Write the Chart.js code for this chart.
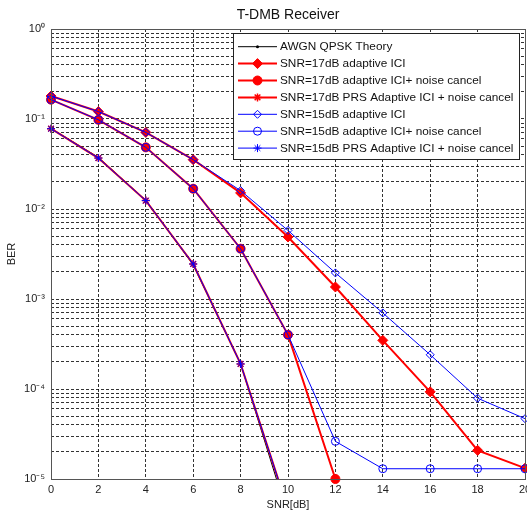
<!DOCTYPE html>
<html>
<head>
<meta charset="utf-8">
<script src="https://cdn.jsdelivr.net/npm/chart.js@4.4.0/dist/chart.umd.min.js"></script>
<style>
html, body { margin: 0; padding: 0; background: #fff; }
</style>
</head>
<body>
<canvas id="berChart" width="527" height="513"></canvas>
<script>
// SNR in dB (x axis)
const snr = [0, 2, 4, 6, 8, 10, 12, 14, 16, 18, 20];

// BER values
const theory = [0.0786, 0.0375, 0.0125, 0.00239, 0.000191, 0.00000387];
const ici17  = [0.18, 0.121, 0.071, 0.0353, 0.0151, 0.00489, 0.00136, 0.000347, 0.000093, 0.0000208, 0.0000132];
const nc17   = [0.164, 0.098, 0.0484, 0.0168, 0.00362, 0.0004, 0.00001];
const prs17  = [0.078, 0.0368, 0.0124, 0.00245, 0.00019, 0.0000046];
const ici15  = [0.18, 0.121, 0.071, 0.0353, 0.016, 0.00578, 0.00195, 0.0007, 0.00024, 0.000079, 0.0000468];
const nc15   = [0.164, 0.098, 0.0484, 0.0168, 0.00362, 0.0004, 0.0000262, 0.000013, 0.000013, 0.000013, 0.000013];
const prs15  = [0.078, 0.0368, 0.0124, 0.00245, 0.00019, 0.0000046];

const seriesNames = [
  "AWGN QPSK Theory",
  "SNR=17dB adaptive ICI",
  "SNR=17dB adaptive ICI+ noise cancel",
  "SNR=17dB PRS Adaptive ICI + noise cancel",
  "SNR=15dB adaptive ICI",
  "SNR=15dB adaptive ICI+ noise cancel",
  "SNR=15dB PRS Adaptive ICI + noise cancel"
];

const xTicks = [0, 2, 4, 6, 8, 10, 12, 14, 16, 18, 20];
const yDecades = [-5, -4, -3, -2, -1, 0];

const FONT = '"Liberation Sans", Arial, sans-serif';
const RED = "#ff0000";
const BLUE = "#0000ff";

function pts(vals) {
  return vals.map((v, i) => ({ x: snr[i], y: v }));
}

// grid lines at 1..9 x 10^n, like the matlab log grid
const yGrid = [];
yDecades.forEach(e => {
  if (e === 0) { yGrid.push(1); return; }
  for (let m = 1; m < 10; m++) yGrid.push(m * Math.pow(10, e));
});

const sup = { "-": "\u207B", "0": "\u2070", "1": "\u00B9", "2": "\u00B2", "3": "\u00B3", "4": "\u2074", "5": "\u2075" };
function powLabel(v) {
  const e = Math.log10(v);
  if (Math.abs(e - Math.round(e)) > 1e-6) return "";
  return "10" + String(Math.round(e)).split("").map(c => sup[c]).join("");
}

const clipBottom = { left: 8, top: 8, right: 8, bottom: 0 };

const datasets = [
  { label: seriesNames[0], data: pts(theory), borderColor: "#000", backgroundColor: "#000",
    borderWidth: 1, pointStyle: "circle", pointRadius: 1.5, pointBorderWidth: 0, clip: clipBottom },
  { label: seriesNames[1], data: pts(ici17), borderColor: RED, backgroundColor: RED,
    borderWidth: 2, pointStyle: "rectRot", pointRadius: 5, pointBorderWidth: 1, clip: 10 },
  { label: seriesNames[2], data: pts(nc17), borderColor: RED, backgroundColor: RED,
    borderWidth: 2, pointStyle: "circle", pointRadius: 4.5, pointBorderWidth: 1, clip: 10 },
  { label: seriesNames[3], data: pts(prs17), borderColor: RED, backgroundColor: RED,
    borderWidth: 2, pointStyle: "star", pointRadius: 4, pointBorderWidth: 1.5, clip: clipBottom },
  { label: seriesNames[4], data: pts(ici15), borderColor: BLUE, backgroundColor: "rgba(0,0,0,0)",
    borderWidth: 1, pointStyle: "rectRot", pointRadius: 4, pointBorderWidth: 1, clip: 10 },
  { label: seriesNames[5], data: pts(nc15), borderColor: BLUE, backgroundColor: "rgba(0,0,0,0)",
    borderWidth: 1, pointStyle: "circle", pointRadius: 4, pointBorderWidth: 1, clip: 10 },
  { label: seriesNames[6], data: pts(prs15), borderColor: BLUE, backgroundColor: BLUE,
    borderWidth: 1, pointStyle: "star", pointRadius: 4, pointBorderWidth: 1, clip: clipBottom }
];
// matlab draws later lines on top
datasets.forEach((d, i) => { d.order = datasets.length - i; d.tension = 0; d.fill = false; });

// title, frame and boxed legend
const matlabDecor = {
  id: "matlabDecor",
  afterDraw(chart) {
    const ctx = chart.ctx;
    const a = chart.chartArea;
    ctx.save();
    ctx.strokeStyle = "#555";
    ctx.lineWidth = 1;
    ctx.setLineDash([]);
    ctx.strokeRect(Math.round(a.left) + 0.5, Math.round(a.top) + 0.5,
                   Math.round(a.right - a.left), Math.round(a.bottom - a.top));

    ctx.fillStyle = "#111";
    ctx.font = "14px " + FONT;
    ctx.textAlign = "center";
    ctx.textBaseline = "middle";
    ctx.fillText("T-DMB Receiver", (a.left + a.right) / 2, 15);

    // legend
    const bx = 233.5, by = 33.5, bw = 286, bh = 126;
    ctx.fillStyle = "#fff";
    ctx.fillRect(bx, by, bw, bh);
    ctx.strokeStyle = "#222";
    ctx.strokeRect(bx, by, bw, bh);
    ctx.font = "11.8px " + FONT;
    ctx.textAlign = "left";
    chart.data.datasets.forEach((d, i) => {
      const y = 46.7 + i * 16.9;
      ctx.strokeStyle = d.borderColor;
      ctx.lineWidth = d.borderWidth;
      ctx.beginPath();
      ctx.moveTo(238, y);
      ctx.lineTo(277, y);
      ctx.stroke();
      ctx.fillStyle = d.backgroundColor;
      ctx.strokeStyle = d.borderColor;
      ctx.lineWidth = d.pointBorderWidth;
      Chart.helpers.drawPoint(ctx, {
        pointStyle: d.pointStyle, radius: d.pointRadius, rotation: 0, borderWidth: d.pointBorderWidth
      }, 257.5, y);
      ctx.fillStyle = "#111";
      ctx.fillText(d.label, 280, y + 0.5);
    });
    ctx.restore();
  }
};

new Chart(document.getElementById("berChart"), {
  type: "line",
  data: { datasets: datasets },
  plugins: [matlabDecor],
  options: {
    responsive: false,
    animation: false,
    devicePixelRatio: 1,
    layout: { autoPadding: false, padding: { left: 0, right: 2, top: 29, bottom: 0 } },
    plugins: { legend: { display: false }, tooltip: { enabled: false }, title: { display: false } },
    scales: {
      x: {
        type: "linear",
        min: 0,
        max: 20,
        afterBuildTicks: s => { s.ticks = xTicks.map(v => ({ value: v })); },
        afterFit: s => { s.height = 34; s.paddingLeft = 0; s.paddingRight = 0; },
        ticks: { color: "#222", font: { family: FONT, size: 11 }, padding: 4, maxRotation: 0, autoSkip: false },
        grid: { color: "rgba(0,0,0,0.8)", lineWidth: 1, drawTicks: false },
        border: { display: false, dash: [3, 2] },
        title: { display: true, text: "SNR[dB]", color: "#222", font: { family: FONT, size: 11 }, padding: { top: 0, bottom: 1 } }
      },
      y: {
        type: "logarithmic",
        min: 1e-5,
        max: 1,
        afterBuildTicks: s => { s.ticks = yGrid.map(v => ({ value: v })); },
        afterFit: s => { s.width = 51; s.paddingTop = 0; s.paddingBottom = 0; },
        ticks: { color: "#222", font: { family: FONT, size: 11 }, padding: 6, autoSkip: false, callback: v => powLabel(v) },
        grid: { color: "rgba(0,0,0,0.8)", lineWidth: 1, drawTicks: false },
        border: { display: false, dash: [3, 2] },
        title: { display: true, text: "BER", color: "#222", font: { family: FONT, size: 11 }, padding: { top: 5, bottom: 0 } }
      }
    }
  }
});
</script>
</body>
</html>
